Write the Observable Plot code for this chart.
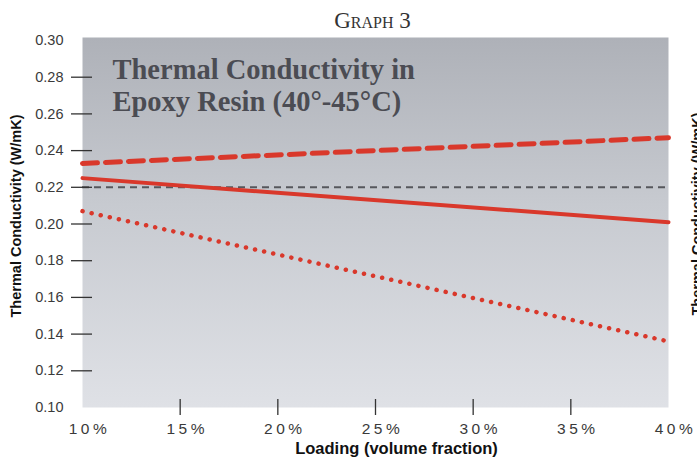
<!DOCTYPE html>
<html>
<head>
<meta charset="utf-8">
<script src="https://cdn.jsdelivr.net/npm/d3@7"></script>
<script src="https://cdn.jsdelivr.net/npm/@observablehq/plot@0.6"></script>
<style>
  html, body { margin: 0; padding: 0; background: #fff; }
  #chart svg { display: block; }
</style>
</head>
<body>
<div id="chart"></div>
<script>
// ---- data ----
const loading = [0.10, 0.40];
const upperDashed = [0.233, 0.247];
const solidLine = [0.225, 0.201];
const dottedLine = [0.207, 0.136];
const referenceLevel = [0.22];

const yTickLabels = [0.10, 0.12, 0.14, 0.16, 0.18, 0.20, 0.22, 0.24, 0.26, 0.28, 0.30];
const yTickMarks = [0.12, 0.14, 0.16, 0.18, 0.20, 0.22, 0.24, 0.26, 0.28];
const xTickLabels = [0.10, 0.15, 0.20, 0.25, 0.30, 0.35, 0.40];
const xTickMarks = [0.15, 0.20, 0.25, 0.30, 0.35];

const pageTitle = "Graph 3";
const innerTitle = ["Thermal Conductivity in", "Epoxy Resin (40°-45°C)"];
const yLabel = "Thermal Conductivity (W/mK)";
const xLabel = "Loading (volume fraction)";

const toRows = (vals) => loading.map((x, i) => ({x, y: vals[i]}));

const red = "#d9382b";
const sans = "'Liberation Sans', Arial, sans-serif";
const serif = "'Liberation Serif', 'Times New Roman', serif";

const svg = Plot.plot({
  width: 697,
  height: 462,
  marginLeft: 82,
  marginRight: 29,
  marginTop: 40,
  marginBottom: 55,
  style: {fontFamily: sans, background: "#fff", overflow: "hidden"},
  x: {domain: [0.10, 0.40]},
  y: {domain: [0.10, 0.30]},
  marks: [
    Plot.frame({fill: "url(#bgGrad)", stroke: null, insetTop: -3}),
    // inner title
    Plot.text([innerTitle[0]], {frameAnchor: "top-left", dx: 30, dy: 38, lineAnchor: "bottom",
      textAnchor: "start", fontFamily: serif, fontWeight: "bold", fontSize: 28.5, fill: "#4b4c53"}),
    Plot.text([innerTitle[1]], {frameAnchor: "top-left", dx: 30, dy: 70, lineAnchor: "bottom",
      textAnchor: "start", fontFamily: serif, fontWeight: "bold", fontSize: 28.5, fill: "#4b4c53"}),
    // reference line
    Plot.ruleY(referenceLevel, {stroke: "#56575c", strokeWidth: 2, strokeDasharray: "7 5"}),
    // series
    Plot.line(toRows(upperDashed), {x: "x", y: "y", stroke: red, strokeWidth: 5, strokeDasharray: "15 8"}),
    Plot.line(toRows(solidLine), {x: "x", y: "y", stroke: red, strokeWidth: 4}),
    Plot.line(toRows(dottedLine), {x: "x", y: "y", stroke: red, strokeWidth: 4.5,
      strokeDasharray: "0.1 9.2", strokeLinecap: "round"}),
    // y axis labels
    Plot.axisY({ticks: yTickLabels, tickSize: 0, tickPadding: 19, fontSize: 14.5,
      fill: "#3a3a3a", tickFormat: d3.format(".2f"), label: null}),
    // y tick marks (cross into plot)
    Plot.axisY({ticks: yTickMarks, tickSize: 21, dx: 10, stroke: "#333", strokeWidth: 1.3,
      tickFormat: () => "", label: null}),
    // x axis labels
    Plot.axisX({ticks: xTickLabels, tickSize: 0, tickPadding: 15, fontSize: 15.5, dx: 7,
      fill: "#3a3a3a", tickFormat: d3.format(".0%"), label: null}),
    // x tick marks (cross bottom edge)
    Plot.axisX({ticks: xTickMarks, tickSize: 16, dy: -8, stroke: "#333", strokeWidth: 1.3,
      tickFormat: () => "", label: null}),
    // axis titles
    Plot.text([yLabel], {frameAnchor: "left", textAnchor: "middle", dx: -66, dy: -8, rotate: -90,
      fontSize: 14.5, fontWeight: "bold", fill: "#111"}),
    Plot.text([xLabel], {frameAnchor: "bottom", dx: 21, dy: 46,
      fontSize: 16.5, fontWeight: "bold", fill: "#111"}),
    // page title
    Plot.text([pageTitle], {frameAnchor: "top", dx: -3, dy: -13, lineAnchor: "bottom",
      fontFamily: serif, fontSize: 23, fontVariant: "small-caps", fill: "#333"}),
    // cut-off label of neighbouring chart at right edge
    Plot.text([yLabel], {frameAnchor: "right", textAnchor: "middle", dx: 29, dy: -10, rotate: -90,
      fontSize: 14.5, fontWeight: "bold", fill: "#111"})
  ]
});

const defs = d3.select(svg).insert("defs", ":first-child");
const grad = defs.append("linearGradient").attr("id", "bgGrad")
  .attr("x1", 0).attr("y1", 0).attr("x2", 0).attr("y2", 1);
grad.append("stop").attr("offset", "0%").attr("stop-color", "#aeb1b8");
grad.append("stop").attr("offset", "45%").attr("stop-color", "#c7cad0");
grad.append("stop").attr("offset", "100%").attr("stop-color", "#dfe1e6");

d3.select(svg).selectAll("text")
  .filter(function() { return /^\d+%$/.test(this.textContent); })
  .attr("letter-spacing", "3.5px");

document.getElementById("chart").appendChild(svg);
</script>
</body>
</html>
